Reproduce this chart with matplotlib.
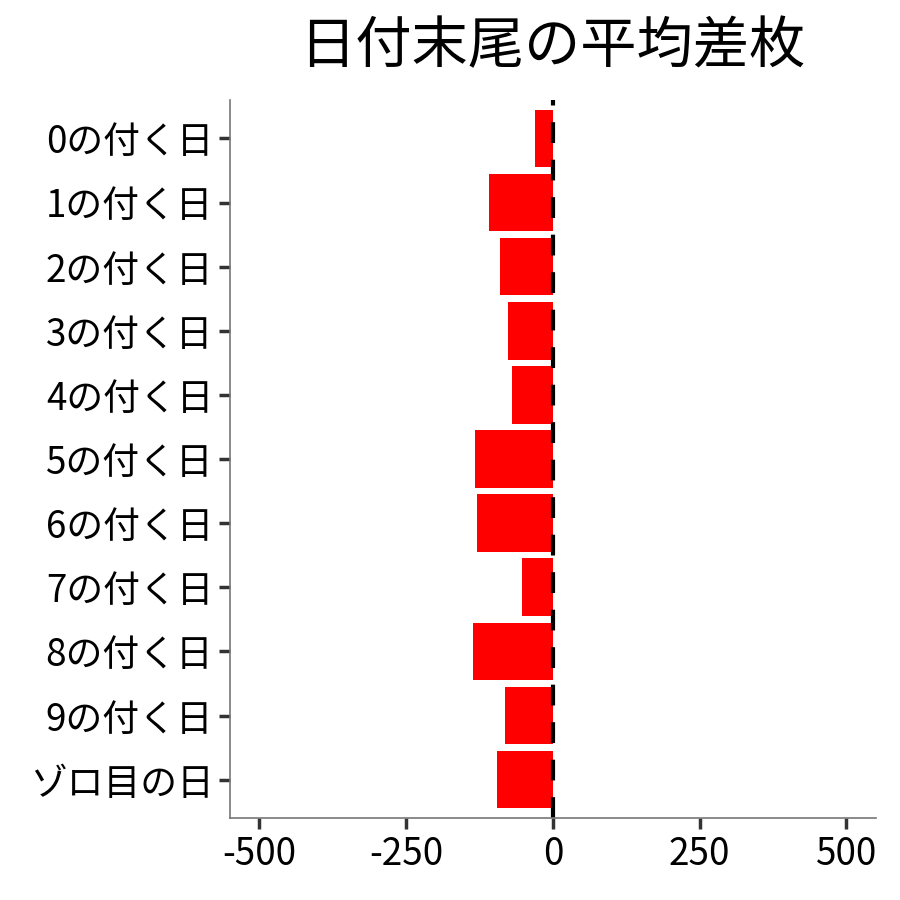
import matplotlib.pyplot as plt

plt.rcParams['font.family'] = ['Noto Sans CJK JP', 'DejaVu Sans']

labels = ['0の付く日', '1の付く日', '2の付く日', '3の付く日', '4の付く日',
          '5の付く日', '6の付く日', '7の付く日', '8の付く日', '9の付く日', 'ゾロ目の日']
values = [-31, -108, -90, -76, -69, -133, -130, -53, -136, -82, -95]
xticks = [-500, -250, 0, 250, 500]

fig = plt.figure(figsize=(9, 9), dpi=100)
ax = fig.add_axes([0.2556, 0.091, 0.7174, 0.798])

pos = list(range(len(labels)))
ax.barh(pos, values, height=0.9, color='#ff0000')
ax.axvline(0, color='black', linewidth=3, linestyle=(0, (5, 4)))

ax.set_xlim(-550, 550)
ax.set_ylim(len(labels) - 0.4, -0.6)
ax.set_yticks(pos)
ax.set_yticklabels(labels)
ax.set_xticks(xticks)
ax.set_xticklabels([str(t) for t in xticks])
ax.tick_params(axis='both', labelsize=26.5, colors='#333333', length=8, width=2.5,
               labelcolor='black', pad=4)

for s in ['top', 'right']:
    ax.spines[s].set_visible(False)
for s in ['left', 'bottom']:
    ax.spines[s].set_color('#777777')
    ax.spines[s].set_linewidth(1.2)

fig.text(0.614, 0.947, '日付末尾の平均差枚', fontsize=40.5, ha='center', va='center')

fig.savefig('out.png', dpi=100)
